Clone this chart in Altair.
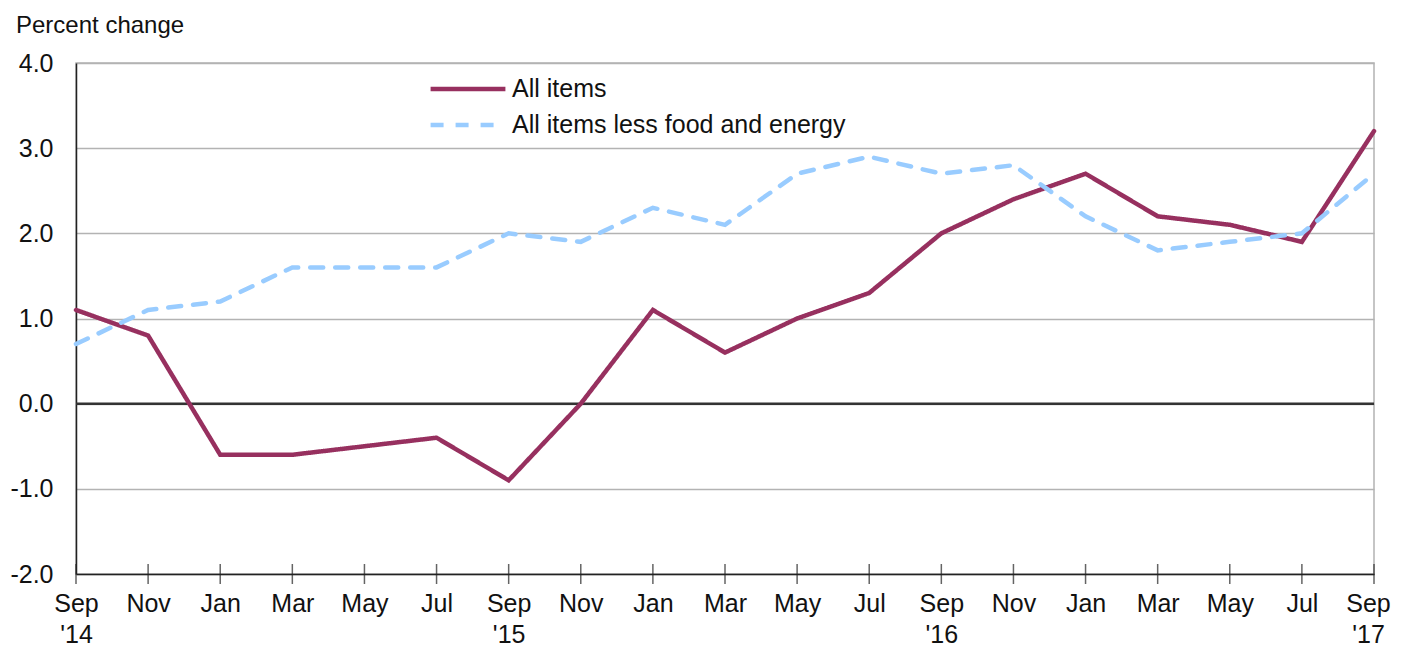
import json
import altair as alt
import pandas as pd

months = ["Sep", "Nov", "Jan", "Mar", "May", "Jul", "Sep", "Nov", "Jan", "Mar",
          "May", "Jul", "Sep", "Nov", "Jan", "Mar", "May", "Jul", "Sep"]
years = ["'14", "", "", "", "", "", "'15", "", "", "",
         "", "", "'16", "", "", "", "", "", "'17"]
all_items = [1.1, 0.8, -0.6, -0.6, -0.5, -0.4, -0.9, 0.0, 1.1, 0.6,
             1.0, 1.3, 2.0, 2.4, 2.7, 2.2, 2.1, 1.9, 3.2]
core = [0.7, 1.1, 1.2, 1.6, 1.6, 1.6, 2.0, 1.9, 2.3, 2.1,
        2.7, 2.9, 2.7, 2.8, 2.2, 1.8, 1.9, 2.0, 2.7]
series_names = ["All items", "All items less food and energy"]
y_ticks = [-2, -1, 0, 1, 2, 3, 4]

FONT = "Liberation Sans"
FS = 25

rows = []
for i in range(len(months)):
    rows.append({"i": i, "series": series_names[0], "value": all_items[i]})
    rows.append({"i": i, "series": series_names[1], "value": core[i]})
df = pd.DataFrame(rows)

labels = [[m, y] if y else [m] for m, y in zip(months, years)]
label_expr = json.dumps(labels) + "[datum.value]"
last = len(months) - 1

x_scale = alt.Scale(domain=[0, last], nice=False, zero=False)
y_scale = alt.Scale(domain=[-2, 4], nice=False)

legend_kw = dict(title=None, orient="none", legendX=352, legendY=13,
                 symbolType="stroke", symbolSize=5600, symbolStrokeWidth=4.5,
                 labelFontSize=FS, labelFont=FONT, labelColor="#111",
                 clipHeight=26, rowPadding=10, labelOffset=4, labelLimit=600)

lines = alt.Chart(df).mark_line(strokeWidth=4.5, strokeCap="round").encode(
    x=alt.X("i:Q", scale=x_scale,
            axis=alt.Axis(values=list(range(len(months))), labelExpr=label_expr,
                          title=None, grid=False, ticks=False, domainColor="#222",
                          domainWidth=1.5, labelFontSize=FS, labelFont=FONT,
                          labelColor="#111", labelPadding=17, labelLineHeight=31,
                          labelBaseline="top", labelFlush=False,
                          labelOffset={"condition": {"test": f"datum.value == {last}",
                                                     "value": -6}, "value": 0})),
    y=alt.Y("value:Q", scale=y_scale,
            axis=alt.Axis(values=y_ticks,
                          labelExpr="replace(format(datum.value, '.1f'), '\u2212', '-')",
                          title=None, grid=True, gridColor="#b3b3b3", gridWidth=1.5,
                          ticks=False, domainColor="#222", domainWidth=1.5,
                          labelFontSize=FS, labelFont=FONT, labelColor="#111",
                          labelPadding=23)),
    color=alt.Color("series:N",
                    scale=alt.Scale(domain=series_names, range=["#97305F", "#99CCFF"]),
                    legend=alt.Legend(**legend_kw)),
    strokeDash=alt.StrokeDash("series:N",
                              scale=alt.Scale(domain=series_names, range=[[1, 0], [13, 12]]),
                              legend=alt.Legend(**legend_kw)),
    order=alt.Order("series:N", sort="descending"),
)

zero = alt.Chart(pd.DataFrame({"v": [0]})).mark_rule(color="#333", strokeWidth=2.5).encode(
    y=alt.Y("v:Q", scale=y_scale))

tick_df = pd.DataFrame({"i": list(range(len(months))), "v": [-2] * len(months)})
ticks = alt.Chart(tick_df).mark_tick(orient="vertical", size=20, thickness=1.5,
                                     color="#222").encode(
    x=alt.X("i:Q", scale=x_scale), y=alt.Y("v:Q", scale=y_scale))

chart = alt.layer(zero, lines, ticks).properties(
    width=1298, height=511,
    title=alt.TitleParams("Percent change", anchor="start", frame="group", dx=-60,
                          offset=13, fontSize=24, fontWeight="normal", font=FONT,
                          color="#111"),
    autosize=alt.AutoSizeParams(type="none"),
    padding={"left": 68, "top": 55, "right": 19, "bottom": 72},
).configure_view(stroke="#b3b3b3", strokeWidth=1.5)

chart.save("out.html", embed_options={"renderer": "svg", "actions": False})
